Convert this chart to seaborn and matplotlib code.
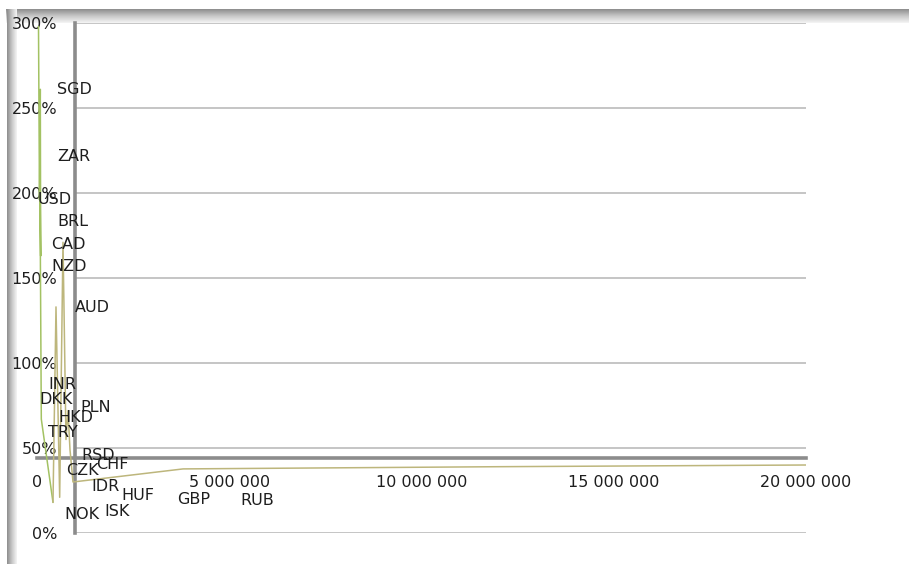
import numpy as np
import matplotlib
matplotlib.use('Agg')
import matplotlib.pyplot as plt
from matplotlib.colors import LinearSegmentedColormap
import pandas as pd
import seaborn as sns

# polyline (x value, percent)
line_x = [39e3, 65e3, 86e3, 96e3, 73e3, 112e3, 416e3, 494e3, 590e3, 676e3,
          754e3, 806e3, 858e3, 936e3, 3.8e6, 12.0e6, 20.0e6]
line_y = [298, 196, 261, 163, 220, 67, 18, 133, 21, 171,
          55, 72, 49, 30, 37.7, 39, 40]

# data labels
currencies = ['SGD', 'ZAR', 'USD', 'BRL', 'CAD', 'NZD', 'AUD', 'INR', 'DKK', 'PLN', 'HKD',
              'TRY', 'RSD', 'CHF', 'CZK', 'IDR', 'HUF', 'GBP', 'RUB', 'NOK', 'ISK']
label_x = [520e3, 520e3, 26e3, 520e3, 364e3, 364e3, 988e3, 286e3, 52e3, 1.118e6, 546e3,
           286e3, 1.144e6, 1.534e6, 754e3, 1.404e6, 2.184e6, 3.64e6, 5.30e6, 702e3, 1.742e6]
label_y = [260.6, 221.7, 196.3, 183.4, 169.8, 156.8, 132.7, 87.3, 78.4, 73.7, 67.8,
           59.0, 45.4, 40.1, 36.6, 27.1, 21.8, 19.5, 18.9, 10.6, 12.4]

x_ticks = [0, 5000000, 10000000, 15000000, 20000000]
y_ticks = [0, 50, 100, 150, 200, 250, 300]

sns.set_style('white')
plt.rcParams['font.family'] = ['DejaVu Sans']
axis_grey = '#8c8c8c'
text_col = '#1e1e1e'

fig = plt.figure(figsize=(9.09, 5.64), dpi=100)

# shadow border on top and left
cm = LinearSegmentedColormap.from_list('sh', ['#8e8e8e', '#c8c8c8', '#f4f4f4'])
top = fig.add_axes([6 / 909, (564 - 23) / 564, 903 / 909, 14 / 564], zorder=0)
top.imshow(np.linspace(0, 1, 30).reshape(-1, 1), cmap=cm, aspect='auto')
top.axis('off')
left = fig.add_axes([7 / 909, 0, 10 / 909, (564 - 9) / 564], zorder=0)
left.imshow(np.linspace(0, 1, 30).reshape(1, -1), cmap=cm, aspect='auto')
left.axis('off')

ax = fig.add_axes([37 / 909, 31 / 564, 769 / 909, 510 / 564], zorder=2)
ax.patch.set_alpha(0)

df = pd.DataFrame({'x': line_x, 'y': line_y})
sns.lineplot(data=df.iloc[:7], x='x', y='y', sort=False, estimator=None,
             color='#a3c263', lw=1.1, ax=ax, zorder=3)
sns.lineplot(data=df.iloc[6:], x='x', y='y', sort=False, estimator=None,
             color='#bdb67c', lw=1.1, ax=ax, zorder=3)

for name, lx, ly in zip(currencies, label_x, label_y):
    ax.text(lx, ly, name, ha='left', va='center', fontsize=11.5, color=text_col, zorder=4)

ax.set_xlim(0, 20e6)
ax.set_ylim(0, 300)
ax.hlines(y_ticks, 1e6, 20e6, color='#c0c0c0', lw=1.3, zorder=1)

for s in ['top', 'right']:
    ax.spines[s].set_visible(False)
ax.spines['left'].set_position(('data', 1e6))
ax.spines['bottom'].set_position(('data', 44))
for s in ['left', 'bottom']:
    ax.spines[s].set_color(axis_grey)
    ax.spines[s].set_linewidth(2.6)
    ax.spines[s].set_zorder(2)

ax.set_xticks(x_ticks)
ax.set_xticklabels([f'{v:,}'.replace(',', ' ') for v in x_ticks])
ax.set_yticks(y_ticks)
ax.set_yticklabels([f'{v}%' for v in y_ticks])
ax.tick_params(axis='both', direction='out', length=4, width=1.8, color=axis_grey,
               labelsize=11.5, labelcolor=text_col)
ax.tick_params(axis='y', pad=9)
ax.tick_params(axis='x', pad=8)
ax.set_xlabel('')
ax.set_ylabel('')

fig.savefig('out.png', dpi=100)
